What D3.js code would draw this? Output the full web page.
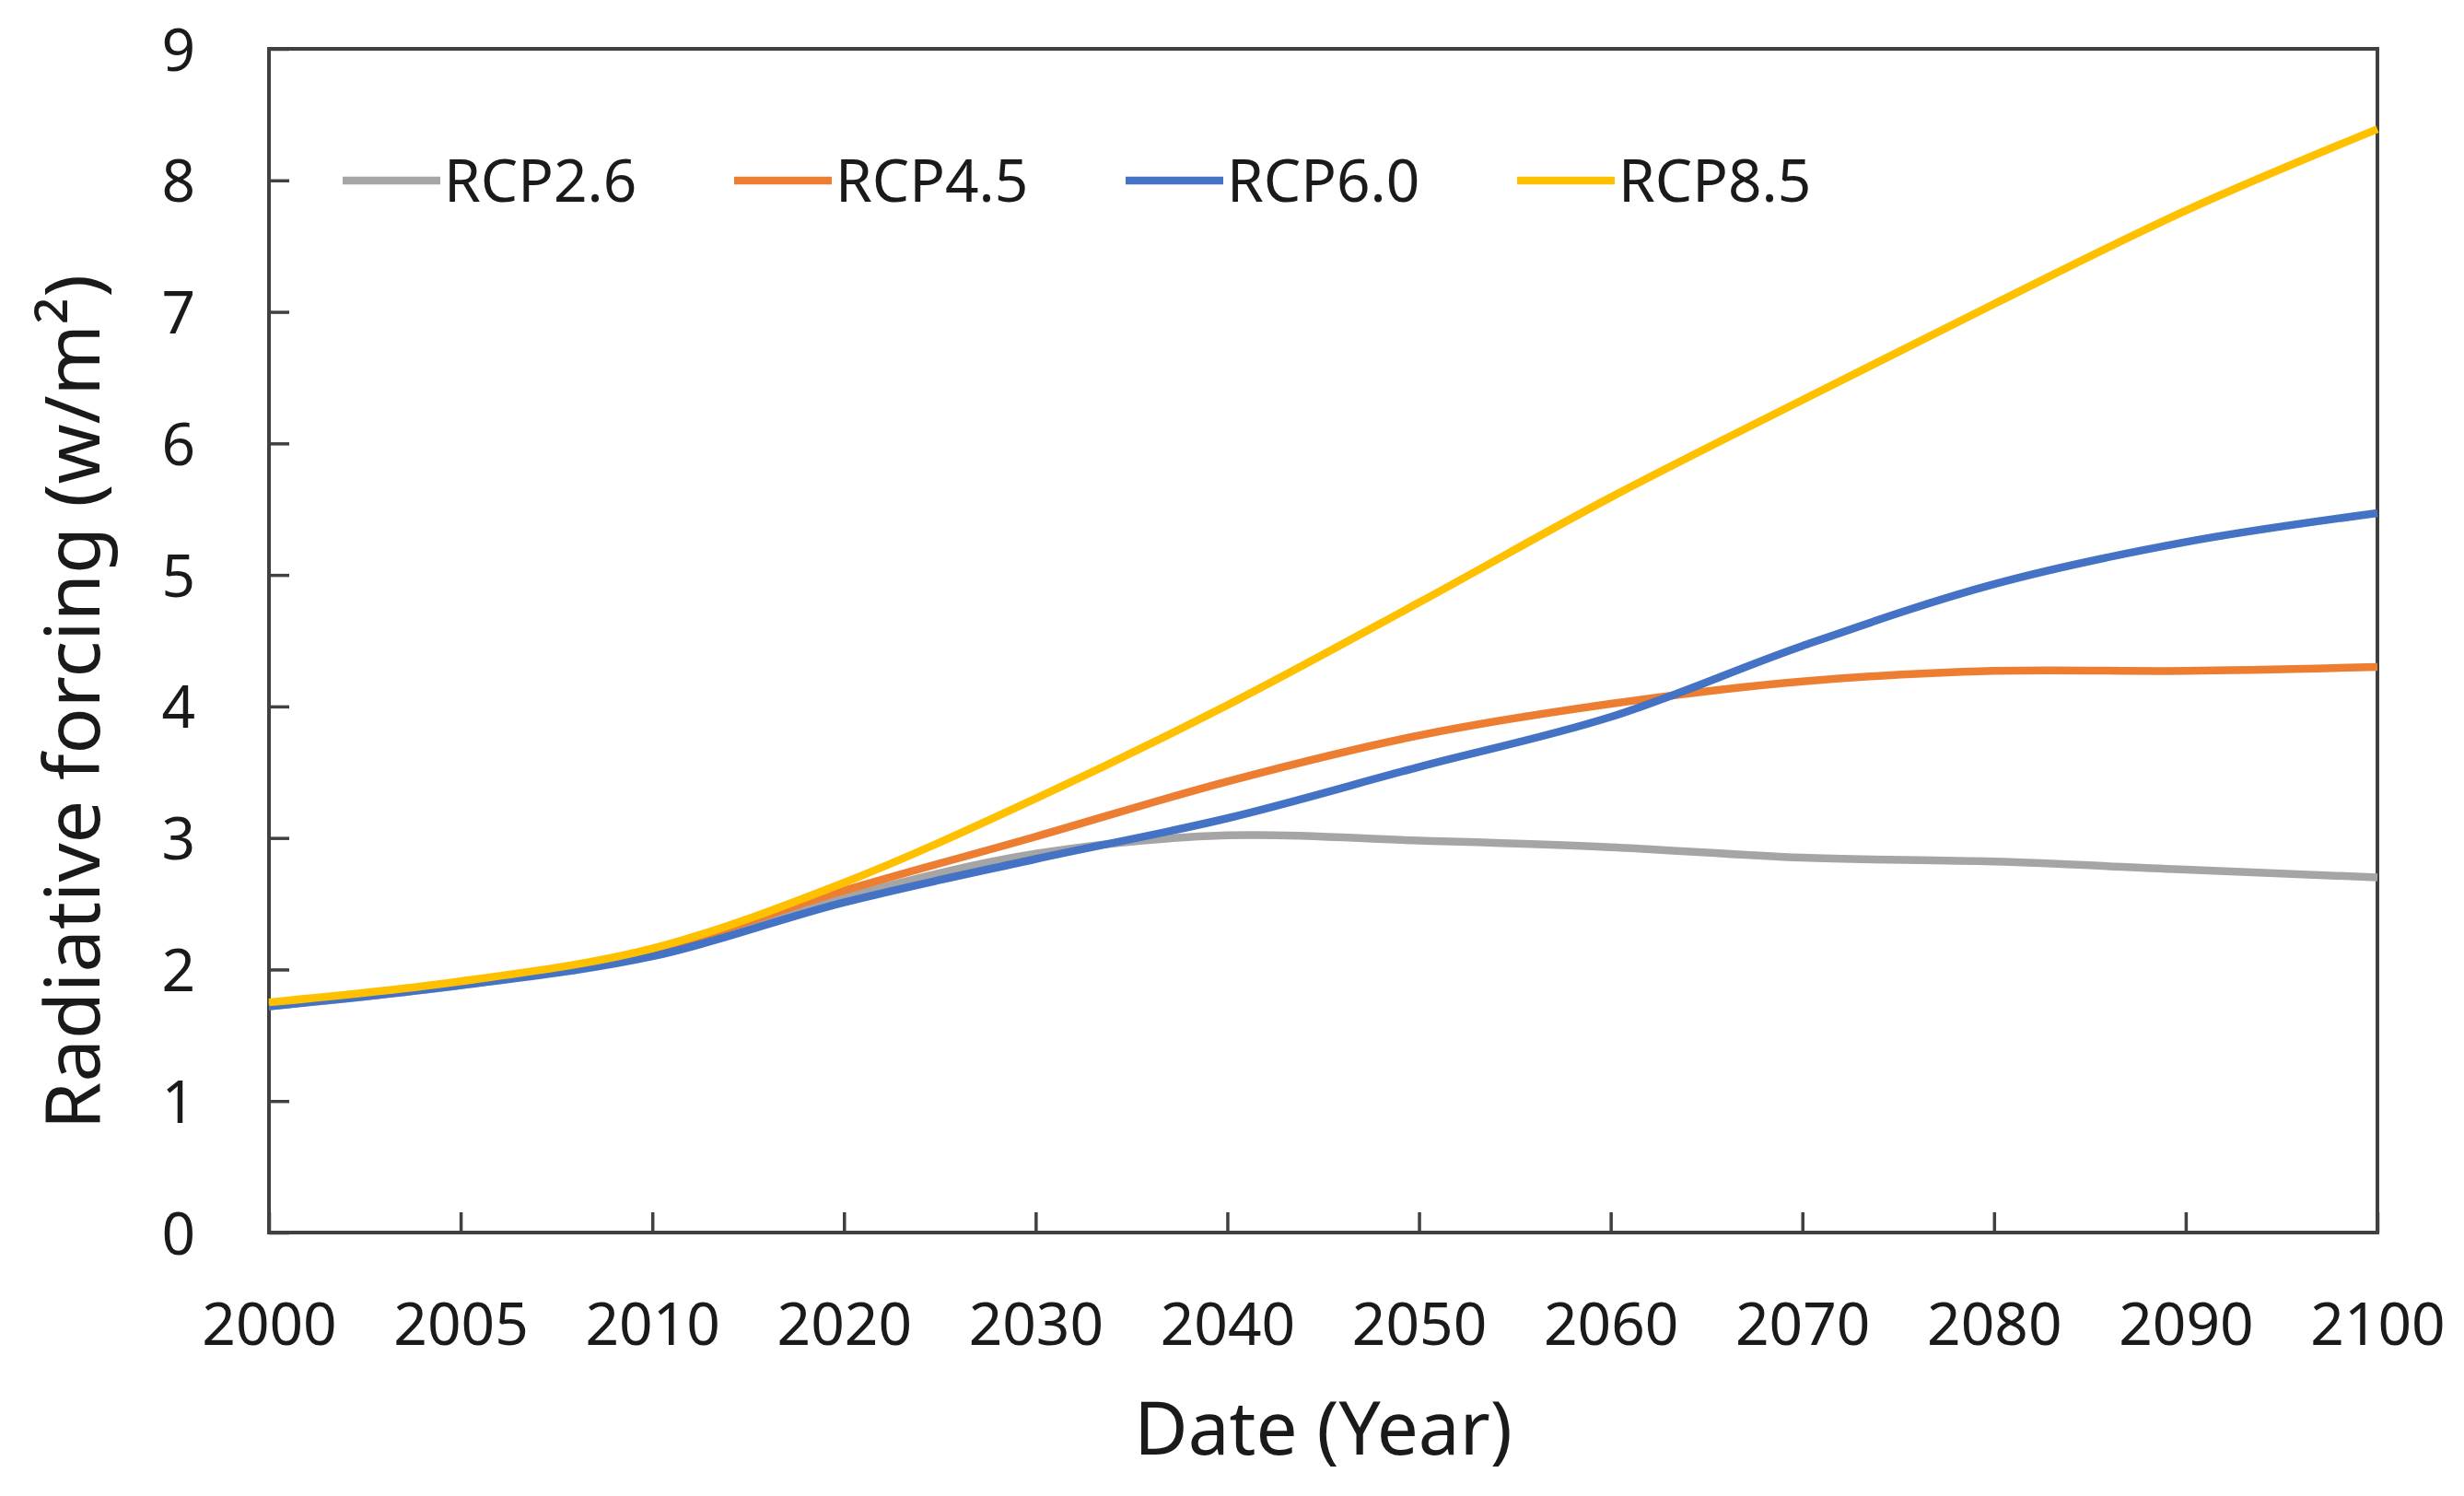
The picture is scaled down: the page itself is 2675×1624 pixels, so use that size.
<!DOCTYPE html>
<html>
<head>
<meta charset="utf-8">
<script src="https://cdn.jsdelivr.net/npm/d3@7"></script>
<style>
  body { margin: 0; background: #fff; }
  text { font-family: "Noto Sans", "Open Sans", sans-serif; fill: #1a1a1a; }
</style>
</head>
<body>
<div id="vis"></div>
<script>
// categorías del eje x (fechas)
const years = ["2000", "2005", "2010", "2020", "2030", "2040", "2050", "2060", "2070", "2080", "2090", "2100"];

// valores (W/m2)
const rcp26 = [1.72, 1.88, 2.12, 2.55, 2.88, 3.02, 2.98, 2.93, 2.85, 2.82, 2.76, 2.70];
const rcp45 = [1.73, 1.90, 2.15, 2.60, 3.01, 3.43, 3.78, 4.02, 4.19, 4.27, 4.27, 4.30];
const rcp60 = [1.72, 1.88, 2.10, 2.51, 2.84, 3.15, 3.54, 3.92, 4.46, 4.93, 5.25, 5.47];
const rcp85 = [1.75, 1.91, 2.16, 2.66, 3.30, 4.01, 4.79, 5.59, 6.33, 7.06, 7.77, 8.39];

const seriesNames = ["RCP2.6", "RCP4.5", "RCP6.0", "RCP8.5"];
const seriesColors = ["#A5A5A5", "#ED7D31", "#4472C4", "#FFC000"];
const yTicks = [0, 1, 2, 3, 4, 5, 6, 7, 8, 9];

const series = [rcp26, rcp45, rcp60, rcp85].map((values, i) => ({
  name: seriesNames[i],
  color: seriesColors[i],
  values: values
}));

const width = 2675;
const height = 1624;
const margin = { top: 53, right: 94, bottom: 286, left: 292 };
const innerW = width - margin.left - margin.right;
const innerH = height - margin.top - margin.bottom;

const svg = d3.select("#vis")
  .append("svg")
  .attr("width", width)
  .attr("height", height);

const g = svg.append("g")
  .attr("transform", `translate(${margin.left},${margin.top})`);

const x = d3.scalePoint().domain(years).range([0, innerW]);
const y = d3.scaleLinear().domain([0, 9]).range([innerH, 0]);

const axisColor = "#404040";

// marco del área de trazado
g.append("rect")
  .attr("width", innerW)
  .attr("height", innerH)
  .attr("fill", "none")
  .attr("stroke", axisColor)
  .attr("stroke-width", 4);

// eje x, marcas hacia dentro
const xAxis = g.append("g")
  .attr("transform", `translate(0,${innerH})`)
  .call(d3.axisBottom(x).tickSizeInner(-22).tickSizeOuter(0).tickPadding(0));
xAxis.select(".domain").remove();
xAxis.selectAll("line").attr("stroke", axisColor).attr("stroke-width", 3.5);
xAxis.selectAll("text")
  .attr("y", 122)
  .attr("dy", 0)
  .style("font-size", "64px")
  .attr("fill", "#1a1a1a");

// eje y, marcas hacia dentro
const yAxis = g.append("g")
  .call(d3.axisLeft(y).tickValues(yTicks).tickSizeInner(-22).tickSizeOuter(0).tickPadding(0));
yAxis.select(".domain").remove();
yAxis.selectAll("line").attr("stroke", axisColor).attr("stroke-width", 3.5);
yAxis.selectAll("text")
  .attr("x", -80)
  .attr("dy", "0.36em")
  .style("font-size", "64px")
  .attr("fill", "#1a1a1a");

// líneas suavizadas
const line = d3.line()
  .x((d, i) => x(years[i]))
  .y(d => y(d))
  .curve(d3.curveCatmullRom.alpha(0.5));

g.selectAll("path.serie")
  .data(series)
  .enter()
  .append("path")
  .attr("class", "serie")
  .attr("d", d => line(d.values))
  .attr("fill", "none")
  .attr("stroke", d => d.color)
  .attr("stroke-width", 8.5)
  .attr("stroke-linejoin", "round");

// leyenda
const legend = svg.selectAll("g.legend")
  .data(series)
  .enter()
  .append("g")
  .attr("class", "legend")
  .attr("transform", (_d, i) => `translate(${372 + i * 425},196)`);

legend.append("line")
  .attr("x1", 0)
  .attr("x2", 106)
  .attr("stroke", d => d.color)
  .attr("stroke-width", 8.5);

legend.append("text")
  .attr("x", 110)
  .attr("dy", "0.36em")
  .style("font-size", "64px")
  .text(d => d.name);

// títulos de ejes
svg.append("text")
  .attr("x", margin.left + innerW / 2)
  .attr("y", 1579)
  .attr("text-anchor", "middle")
  .style("font-size", "80px")
  .text("Date (Year)");

svg.append("text")
  .attr("transform", "translate(108,762) rotate(-90)")
  .attr("text-anchor", "middle")
  .style("font-size", "83px")
  .text("Radiative forcing (w/m²)");
</script>
</body>
</html>
